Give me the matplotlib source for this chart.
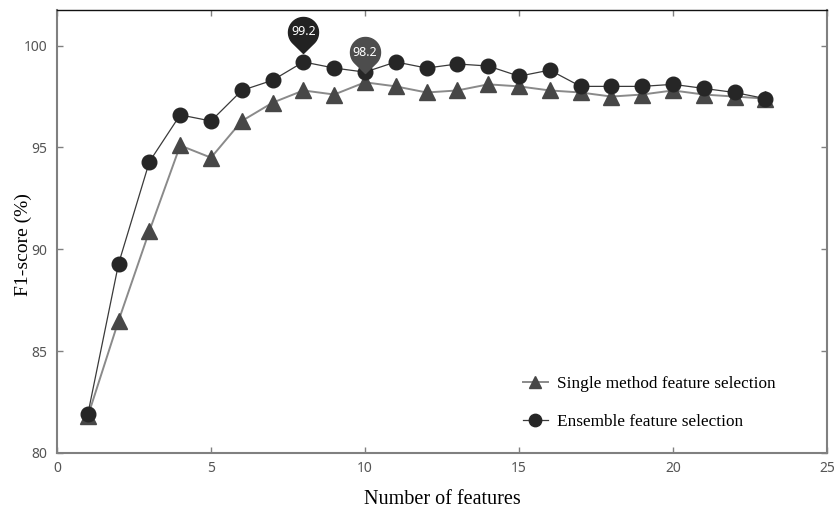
import numpy as np
import matplotlib
matplotlib.use("Agg")
import matplotlib.pyplot as plt
from matplotlib.path import Path

# ---- data ----
n_features = list(range(1, 24))
ensemble = [81.9, 89.3, 94.3, 96.6, 96.3, 97.8, 98.3, 99.2, 98.9, 98.7, 99.2, 98.9,
            99.1, 99.0, 98.5, 98.8, 98.0, 98.0, 98.0, 98.1, 97.9, 97.7, 97.4]
single = [81.8, 86.5, 90.9, 95.1, 94.5, 96.3, 97.2, 97.8, 97.6, 98.2, 98.0, 97.7,
          97.8, 98.1, 98.0, 97.8, 97.7, 97.5, 97.6, 97.8, 97.6, 97.5, 97.4]
series_labels = ["Single method feature selection", "Ensemble feature selection"]
x_ticks = [0, 5, 10, 15, 20, 25]
y_ticks = [80, 85, 90, 95, 100]
x_label = "Number of features"
y_label = "F1-score (%)"

DPI = 100
fig = plt.figure(figsize=(8.37, 5.08), dpi=DPI)
W, H = 837, 508
ax = fig.add_axes([57 / W, (H - 453) / H, 770 / W, 443 / H])

c_single = "#474747"
c_single_line = "#8a8a8a"
c_ens = "#262626"
c_ens_line = "#3a3a3a"

ax.plot(n_features, single, color=c_single_line, lw=1.4, marker="^", ms=11,
        mfc=c_single, mec=c_single, label=series_labels[0], zorder=3)
ax.plot(n_features, ensemble, color=c_ens_line, lw=0.9, marker="o", ms=10.5,
        mfc=c_ens, mec=c_ens, label=series_labels[1], zorder=4)

# ---- pin markers (max of each series) ----
px = 72.0 / DPI  # points per pixel
r, cy, tip = 15.0, 30.0, 9.0
d = cy - tip
th = np.degrees(np.arccos(r / d))
angs = np.radians(np.linspace(-90 + th, 270 - th, 80))
verts = [(r * np.cos(a), cy + r * np.sin(a)) for a in angs] + [(0, tip), (0, tip)]
codes = [Path.MOVETO] + [Path.LINETO] * (len(verts) - 2) + [Path.CLOSEPOLY]
pin = Path(verts, codes)
pin_ms = 2 * (cy + r) * px

for vals, col in [(ensemble, "#222222"), (single, "#4d4d4d")]:
    i = int(np.argmax(vals))
    ax.plot([n_features[i]], [vals[i]], marker=pin, ms=pin_ms, color=col,
            mec=col, ls="none", zorder=6)
    ax.annotate(f"{vals[i]}", xy=(n_features[i], vals[i]), xytext=(0, cy * px),
                textcoords="offset points", ha="center", va="center",
                color="white", fontsize=9, family="Noto Sans", zorder=7)

ax.set_xlim(0, 25)
ax.set_ylim(80, 101.75)
ax.set_xticks(x_ticks)
ax.set_yticks(y_ticks)

for side in ["left", "bottom", "right"]:
    ax.spines[side].set_color("#808080")
    ax.spines[side].set_linewidth(1.5)
ax.spines["top"].set_color("#111111")
ax.spines["top"].set_linewidth(1.0)

ax.tick_params(axis="both", direction="in", length=4, width=1, color="#808080",
               top=True, right=True, labelsize=10, labelcolor="#555555")
ax.tick_params(axis="x", pad=5.5)
ax.tick_params(axis="y", pad=7)
for lab in ax.get_xticklabels() + ax.get_yticklabels():
    lab.set_family("Noto Sans")

ax.set_xlabel(x_label, family="Liberation Serif", fontsize=14.5, color="black")
ax.set_ylabel(y_label, family="Liberation Serif", fontsize=14, color="black")
ax.xaxis.set_label_coords(0.5, -0.083)
ax.yaxis.set_label_coords(-0.033, 0.47)

leg = ax.legend(loc="upper left", bbox_to_anchor=(0.605, 0.175), frameon=False,
                prop={"family": "Liberation Serif", "size": 12.4},
                handlelength=1.45, handletextpad=0.55, labelspacing=1.32,
                borderpad=0, borderaxespad=0, markerscale=0.85)

fig.savefig("out.png", dpi=DPI)
